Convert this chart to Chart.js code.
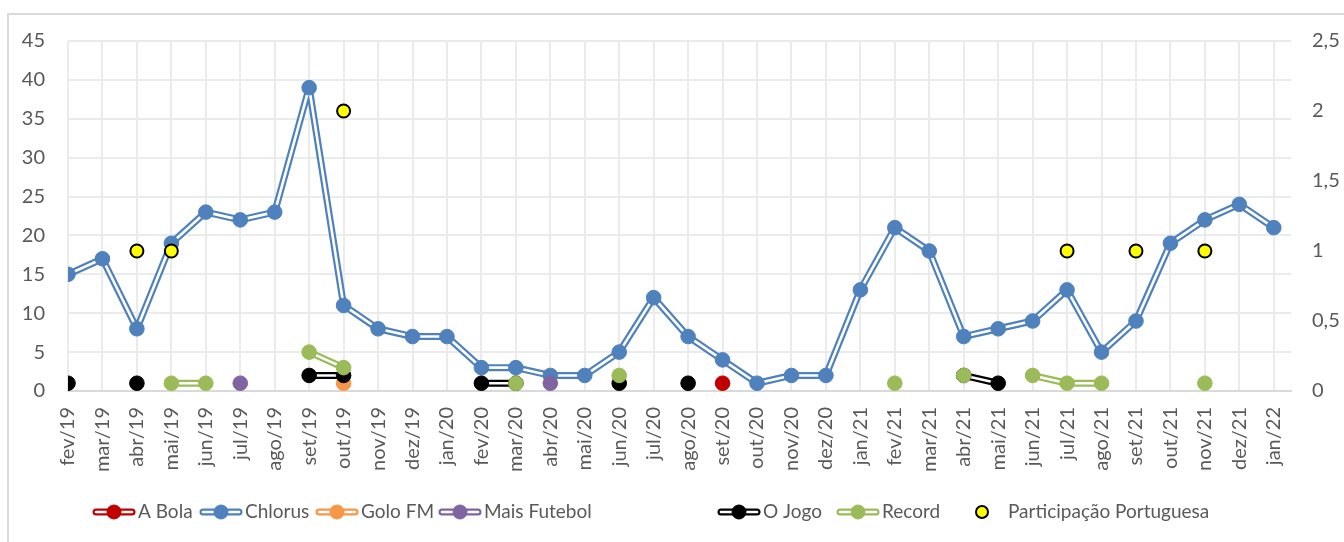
<!DOCTYPE html>
<html>
<head>
<meta charset="utf-8">
<script src="https://cdn.jsdelivr.net/npm/chart.js@4.4.1/dist/chart.umd.min.js"></script>
<style>
html,body{margin:0;padding:0;background:#fff;}
canvas{display:block;}
</style>
</head>
<body>
<canvas id="c" width="1344" height="542"></canvas>
<script>
const n = null;
const months = [
  'fev/19','mar/19','abr/19','mai/19','jun/19','jul/19','ago/19','set/19','out/19','nov/19','dez/19','jan/20',
  'fev/20','mar/20','abr/20','mai/20','jun/20','jul/20','ago/20','set/20','out/20','nov/20','dez/20','jan/21',
  'fev/21','mar/21','abr/21','mai/21','jun/21','jul/21','ago/21','set/21','out/21','nov/21','dez/21','jan/22'
];
const aBola = [
  n,n,n,n,n,n,n,n,n,n,n,n,
  n,n,n,n,n,n,n,1,n,n,n,n,
  n,n,n,n,n,n,n,n,n,n,n,n
];
const chlorus = [
  15,17,8,19,23,22,23,39,11,8,7,7,
  3,3,2,2,5,12,7,4,1,2,2,13,
  21,18,7,8,9,13,5,9,19,22,24,21
];
const goloFM = [
  n,n,n,n,n,n,n,n,1,n,n,n,
  n,n,n,n,n,n,n,n,n,n,n,n,
  n,n,n,n,n,n,n,n,n,n,n,n
];
const maisFutebol = [
  n,n,n,n,n,1,n,n,n,n,n,n,
  n,n,1,n,n,n,n,n,n,n,n,n,
  n,n,n,n,n,n,n,n,n,n,n,n
];
const oJogo = [
  1,n,1,n,n,n,n,2,2,n,n,n,
  1,1,n,n,1,n,1,n,n,n,n,n,
  n,n,2,1,n,n,n,n,n,n,n,n
];
const record = [
  n,n,n,1,1,n,n,5,3,n,n,n,
  n,1,n,n,2,n,n,n,n,n,n,n,
  1,n,2,n,2,1,1,n,n,1,n,n
];
const participacao = [
  n,n,1,1,n,n,n,n,2,n,n,n,
  n,n,n,n,n,n,n,n,n,n,n,n,
  n,n,n,n,n,1,n,1,n,1,n,n
];
const leftTicks = {min: 0, max: 45, step: 5};
const rightTicks = {min: 0, max: 2.5, step: 0.5};

const series = [
  {name: 'A Bola', data: aBola, color: '#c00000'},
  {name: 'Chlorus', data: chlorus, color: '#4f81bd'},
  {name: 'Golo FM', data: goloFM, color: '#f79646'},
  {name: 'Mais Futebol', data: maisFutebol, color: '#8064a2'},
  {name: 'O Jogo', data: oJogo, color: '#000000'},
  {name: 'Record', data: record, color: '#9bbb59'}
];
const toXY = arr => arr.map((v, i) => ({x: i, y: v}));

const datasets = [];
series.forEach((s, k) => {
  datasets.push({
    label: s.name + ' outer', data: toXY(s.data), yAxisID: 'y',
    borderColor: s.color, borderWidth: 7, borderJoinStyle: 'round', pointRadius: 0, spanGaps: false,
    order: 21 - 2 * k, fill: false
  });
  datasets.push({
    label: s.name, data: toXY(s.data), yAxisID: 'y',
    borderColor: '#ffffff', borderWidth: 2.6, borderJoinStyle: 'round', spanGaps: false,
    pointRadius: 7.3, pointBackgroundColor: s.color, pointBorderColor: s.color, pointBorderWidth: 1,
    order: 20 - 2 * k, fill: false
  });
});
datasets.push({
  label: 'Participação Portuguesa', data: toXY(participacao), yAxisID: 'y2',
  showLine: false, pointRadius: 6.5, pointBackgroundColor: '#ffff00', pointBorderColor: '#000000',
  pointBorderWidth: 2, order: 0
});

const FONT = 'Lato';
const TXT = '#595959';
const GRID = '#ebebeb';

const legendItems = [
  {label: 'A Bola', color: '#c00000', line: true},
  {label: 'Chlorus', color: '#4f81bd', line: true},
  {label: 'Golo FM', color: '#f79646', line: true},
  {label: 'Mais Futebol', color: '#8064a2', line: true},
  {label: 'O Jogo', color: '#000000', line: true},
  {label: 'Record', color: '#9bbb59', line: true},
  {label: 'Participação Portuguesa', color: '#ffff00', line: false, stroke: '#000000'}
];
const legendSlots = [92, 199, 315, 438, 717, 836, 960];

const framePlugin = {
  id: 'frame',
  beforeDraw(chart) {
    const ctx = chart.ctx;
    ctx.save();
    ctx.fillStyle = '#ffffff';
    ctx.fillRect(0, 0, chart.width, chart.height);
    ctx.restore();
  },
  afterDraw(chart) {
    const ctx = chart.ctx;
    ctx.save();
    ctx.strokeStyle = '#d9d9d9';
    ctx.lineWidth = 2;
    ctx.strokeRect(8, 14, chart.width + 20, chart.height + 20);
    // legend
    const y = 512;
    ctx.font = '19px ' + FONT;
    ctx.textBaseline = 'middle';
    ctx.textAlign = 'left';
    legendItems.forEach((it, i) => {
      const x = legendSlots[i];
      const iw = 44;
      if (it.line) {
        ctx.lineCap = 'round';
        ctx.strokeStyle = it.color;
        ctx.lineWidth = 7;
        ctx.beginPath(); ctx.moveTo(x + 4, y); ctx.lineTo(x + iw - 4, y); ctx.stroke();
        ctx.strokeStyle = '#ffffff';
        ctx.lineWidth = 2.6;
        ctx.beginPath(); ctx.moveTo(x + 4, y); ctx.lineTo(x + iw - 4, y); ctx.stroke();
      }
      ctx.beginPath();
      ctx.arc(x + iw / 2, y, it.line ? 7 : 6, 0, Math.PI * 2);
      ctx.fillStyle = it.color;
      ctx.fill();
      ctx.lineWidth = it.line ? 1 : 2;
      ctx.strokeStyle = it.stroke || it.color;
      ctx.stroke();
      ctx.fillStyle = TXT;
      const tx = x + iw + (it.line ? 2 : 4);
      ctx.fillText(it.label, tx, y);
    });
    ctx.restore();
  }
};

new Chart(document.getElementById('c'), {
  type: 'line',
  data: {datasets},
  options: {
    responsive: false,
    animation: false,
    events: [],
    devicePixelRatio: 1,
    layout: {padding: {top: 41, left: 0, right: 0, bottom: 0}},
    plugins: {legend: {display: false}, tooltip: {enabled: false}},
    scales: {
      x: {
        type: 'linear', min: 0, max: months.length - 0.5,
        afterBuildTicks: s => { s.ticks = months.map((m, i) => ({value: i})); },
        afterFit: s => { s.height = 151; },
        ticks: {
          autoSkip: false, maxRotation: 90, minRotation: 90, padding: 16,
          color: TXT, font: {family: FONT, size: 20},
          callback: v => months[v]
        },
        grid: {color: GRID, lineWidth: 2, drawTicks: false},
        border: {display: true, color: '#d9d9d9', width: 2}
      },
      y: {
        position: 'left', min: leftTicks.min, max: leftTicks.max,
        afterFit: s => { s.width = 68; },
        ticks: {stepSize: leftTicks.step, padding: 23, color: TXT, font: {family: FONT, size: 20}},
        grid: {color: GRID, lineWidth: 2, drawTicks: false},
        border: {display: false}
      },
      y2: {
        position: 'right', min: rightTicks.min, max: rightTicks.max,
        afterFit: s => { s.width = 53; },
        ticks: {
          stepSize: rightTicks.step, padding: 21, color: TXT, font: {family: FONT, size: 20},
          callback: v => String(v).replace('.', ',')
        },
        grid: {display: false, drawTicks: false},
        border: {display: false}
      }
    }
  },
  plugins: [framePlugin]
});
</script>
</body>
</html>
